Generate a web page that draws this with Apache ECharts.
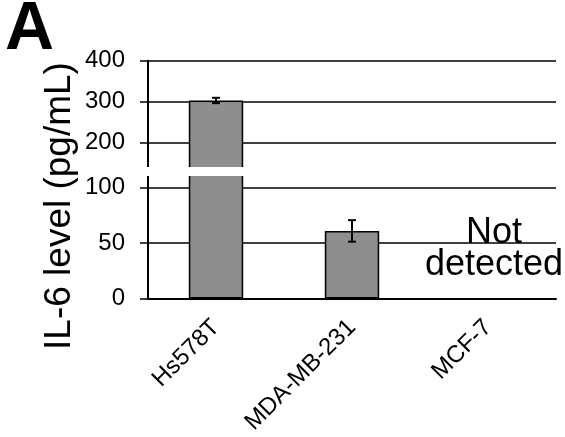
<!DOCTYPE html>
<html>
<head>
<meta charset="utf-8">
<script src="https://cdn.jsdelivr.net/npm/echarts@6/dist/echarts.min.js"></script>
<style>
  html, body { margin: 0; padding: 0; background: #fff; }
  #chart { width: 565px; height: 437px; }
</style>
</head>
<body>
<div id="chart"></div>
<script>
// Cell lines and measured IL-6 secretion (mean and error)
const categories = ['Hs578T', 'MDA-MB-231', 'MCF-7'];
const il6Mean = [303, 61, 0];
const il6Err = [6.5, 9.7, 0];
const notes = ['', '', 'Not\ndetected'];

// Broken value axis: upper and lower segments with their own scales
const upperRange = [138.3, 400];
const lowerRange = [0, 111.4];
const upperTicks = [200, 300, 400];
const lowerTicks = [0, 50, 100];

const FONT = '"Liberation Sans", Arial, Helvetica, sans-serif';

function errorData(keep) {
  const out = [];
  il6Mean.forEach((m, i) => {
    if (il6Err[i] > 0 && keep(m)) out.push([i, m, m - il6Err[i], m + il6Err[i]]);
  });
  return out;
}

function renderError(params, api) {
  const i = api.value(0);
  const lo = api.coord([i, api.value(2)]);
  const hi = api.coord([i, api.value(3)]);
  const half = 4;
  const st = { stroke: '#000', lineWidth: 2 };
  return {
    type: 'group',
    children: [
      { type: 'line', shape: { x1: hi[0], y1: hi[1], x2: lo[0], y2: lo[1] }, style: st },
      { type: 'line', shape: { x1: hi[0] - half, y1: hi[1], x2: hi[0] + half, y2: hi[1] }, style: st },
      { type: 'line', shape: { x1: lo[0] - half, y1: lo[1], x2: lo[0] + half, y2: lo[1] }, style: st }
    ]
  };
}

const noteData = [];
notes.forEach((t, i) => { if (t) noteData.push([i, il6Mean[i], t]); });

const barStyle = { color: '#8e8e8e', borderColor: '#000', borderWidth: 1.5 };
const axisLineStyle = { color: '#000', width: 2 };
const labelFont = { color: '#000', fontFamily: FONT, fontSize: 24 };

const chart = echarts.init(document.getElementById('chart'), null, { renderer: 'canvas' });

const option = {
  animation: false,
  backgroundColor: '#fff',
  title: {
    text: 'A',
    left: 5, top: -4, padding: 0,
    textStyle: { fontFamily: FONT, fontSize: 68, fontWeight: 'bold', color: '#000' }
  },
  grid: [
    { left: 148, right: 9, top: 60.7, height: 107.3 },
    { left: 148, right: 9, top: 175, height: 123.7 }
  ],
  xAxis: [
    { type: 'category', gridIndex: 0, data: categories, show: false },
    {
      type: 'category', gridIndex: 1, data: categories,
      axisLine: { lineStyle: axisLineStyle },
      axisTick: { length: 6, lineStyle: { color: '#000', width: 2 } },
      axisLabel: Object.assign({ rotate: 45, margin: 25 }, labelFont)
    }
  ],
  yAxis: [
    {
      type: 'value', gridIndex: 0, min: upperRange[0], max: upperRange[1],
      axisLine: { show: true, lineStyle: axisLineStyle },
      axisTick: { show: true, length: 8, customValues: upperTicks, lineStyle: { color: '#000', width: 1.5 } },
      axisLabel: Object.assign({ customValues: upperTicks, margin: 23 }, labelFont),
      splitLine: { show: true, lineStyle: { color: '#000', width: 1.5 } }
    },
    {
      type: 'value', gridIndex: 1, min: lowerRange[0], max: lowerRange[1],
      axisLine: { show: true, lineStyle: axisLineStyle },
      axisTick: { show: true, length: 8, customValues: lowerTicks, lineStyle: { color: '#000', width: 1.5 } },
      axisLabel: Object.assign({ customValues: lowerTicks, margin: 23 }, labelFont),
      splitLine: { show: true, lineStyle: { color: '#000', width: 1.5 } }
    }
  ],
  series: [
    {
      type: 'bar', xAxisIndex: 0, yAxisIndex: 0, data: il6Mean,
      barWidth: '40%', itemStyle: barStyle, clip: true, z: 3
    },
    {
      type: 'bar', xAxisIndex: 1, yAxisIndex: 1,
      data: il6Mean.map(v => (v > 0 ? v : { value: v, itemStyle: { opacity: 0 } })),
      barWidth: '40%', itemStyle: barStyle, clip: true, z: 3
    },
    {
      type: 'custom', xAxisIndex: 0, yAxisIndex: 0, z: 4,
      data: errorData(m => m > upperRange[0]), renderItem: renderError
    },
    {
      type: 'custom', xAxisIndex: 1, yAxisIndex: 1, z: 4,
      data: errorData(m => m <= lowerRange[1]), renderItem: renderError
    },
    {
      type: 'custom', xAxisIndex: 1, yAxisIndex: 1, z: 5, clip: false,
      data: noteData,
      renderItem: function (params, api) {
        const p = api.coord([api.value(0), api.value(1)]);
        return {
          type: 'text',
          x: p[0] + 6, y: p[1] - 18,
          style: {
            text: noteData[params.dataIndex][2],
            fontFamily: FONT, fontSize: 36, lineHeight: 32,
            fill: '#000', align: 'center', verticalAlign: 'bottom'
          }
        };
      }
    }
  ]
};

chart.setOption(option);

// White band across the axis break, placed from the two segment limits
const yBreakTop = chart.convertToPixel({ yAxisIndex: 0 }, upperRange[0]);
const yBreakBottom = chart.convertToPixel({ yAxisIndex: 1 }, lowerRange[1]);
chart.setOption({
  graphic: [
    {
      type: 'rect', z: 100,
      shape: { x: 130, y: yBreakTop - 1, width: 440, height: yBreakBottom - yBreakTop + 2 },
      style: { fill: '#fff' }
    },
    {
      type: 'text', z: 100,
      x: 60, y: 206, rotation: Math.PI / 2,
      style: {
        text: 'IL-6 level (pg/mL)', fontFamily: FONT, fontSize: 37,
        fill: '#000', align: 'center', verticalAlign: 'middle'
      }
    }
  ]
});
</script>
</body>
</html>
